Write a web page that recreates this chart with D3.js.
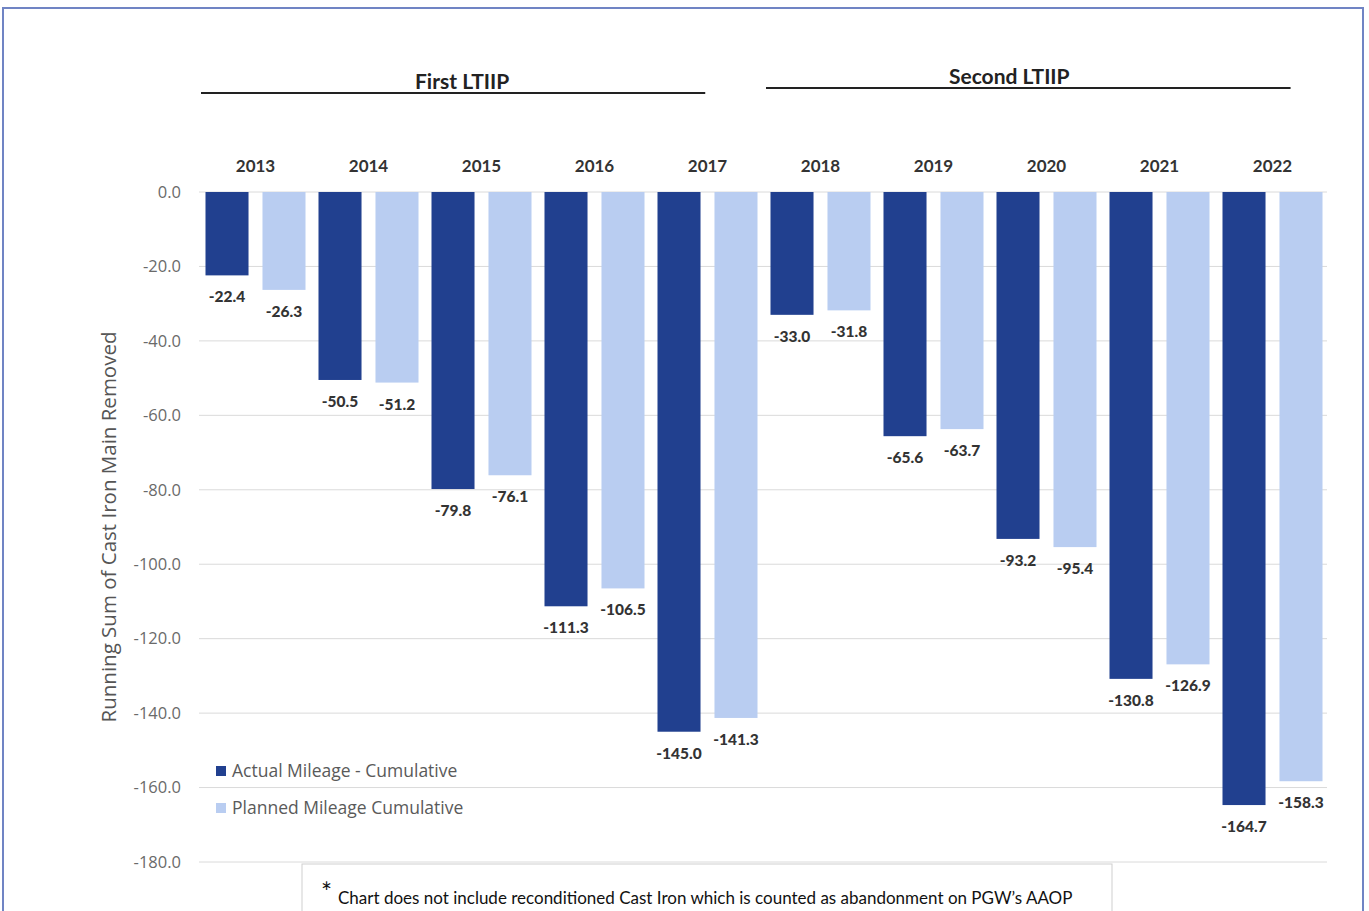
<!DOCTYPE html>
<html>
<head>
<meta charset="utf-8">
<script src="https://cdn.jsdelivr.net/npm/d3@7"></script>
<style>
  body { margin: 0; background: #fff; }
  svg { display: block; }
</style>
</head>
<body>
<svg id="vis"></svg>
<script>
const WIDTH = 1369;
const HEIGHT = 911;

// datos
const years = ["2013", "2014", "2015", "2016", "2017", "2018", "2019", "2020", "2021", "2022"];
const actual = [-22.4, -50.5, -79.8, -111.3, -145.0, -33.0, -65.6, -93.2, -130.8, -164.7];
const planned = [-26.3, -51.2, -76.1, -106.5, -141.3, -31.8, -63.7, -95.4, -126.9, -158.3];
const seriesNames = ["Actual Mileage - Cumulative", "Planned Mileage Cumulative"];
const yTicks = [0, -20, -40, -60, -80, -100, -120, -140, -160, -180];
const periods = [
    { name: "First LTIIP", from: "2013", to: "2017" },
    { name: "Second LTIIP", from: "2018", to: "2022" }
];
const footnote = "Chart does not include reconditioned Cast Iron which is counted as abandonment on PGW\u2019s AAOP";

const DARK = "#21408f";
const LIGHT = "#b9cdf1";
const colors = [DARK, LIGHT];

const svg = d3.select("#vis")
    .attr("width", WIDTH)
    .attr("height", HEIGHT);

// marco exterior
svg.append("rect")
    .attr("x", 3).attr("y", 8)
    .attr("width", 1360).attr("height", 920)
    .attr("fill", "none")
    .attr("stroke", "#7084c4")
    .attr("stroke-width", 2);

const escalaX = d3.scaleBand()
    .domain(years)
    .range([199, 1329]);

const escalaSerie = d3.scaleBand()
    .domain([0, 1])
    .range([0, escalaX.bandwidth()])
    .paddingInner(0.245)
    .paddingOuter(0.114);

const escalaY = d3.scaleLinear()
    .domain([0, -180])
    .range([192, 862]);

// lineas de grilla
svg.append("g")
    .selectAll("line")
    .data(yTicks)
    .join("line")
    .attr("x1", 199)
    .attr("x2", 1327)
    .attr("y1", d => escalaY(d))
    .attr("y2", d => escalaY(d))
    .attr("stroke", "#dadada")
    .attr("stroke-width", 1);

// eje Y
const ejeY = d3.axisLeft(escalaY)
    .tickValues(yTicks)
    .tickSize(0)
    .tickPadding(0);

const gEje = svg.append("g")
    .attr("transform", "translate(181,0)")
    .call(ejeY);
gEje.select(".domain").remove();
gEje.selectAll("text")
    .attr("font-family", "'Open Sans', sans-serif")
    .attr("font-size", 16.5)
    .attr("fill", "#6a6a6a")
    .text(d => d3.format(".1f")(d).replace("\u2212", "-"));

svg.append("text")
    .attr("transform", `translate(116, ${escalaY(-90)}) rotate(-90)`)
    .attr("text-anchor", "middle")
    .attr("font-family", "'Open Sans', sans-serif")
    .attr("font-size", 20.5)
    .attr("fill", "#555")
    .text("Running Sum of Cast Iron Main Removed");

// etiquetas de años
svg.append("g")
    .selectAll("text")
    .data(years)
    .join("text")
    .attr("x", d => escalaX(d) + escalaX.bandwidth() / 2)
    .attr("y", 172)
    .attr("text-anchor", "middle")
    .attr("font-family", "Lato, sans-serif")
    .attr("font-weight", "bold")
    .attr("font-size", 17)
    .attr("fill", "#333")
    .text(d => d);

// barras
const datos = years.map((y, i) => ({ year: y, values: [actual[i], planned[i]] }));

const grupos = svg.append("g")
    .selectAll("g")
    .data(datos)
    .join("g")
    .attr("transform", d => `translate(${escalaX(d.year)},0)`);

grupos.selectAll("rect")
    .data(d => d.values.map((v, k) => ({ k: k, v: v })))
    .join("rect")
    .attr("x", d => escalaSerie(d.k))
    .attr("width", escalaSerie.bandwidth())
    .attr("y", escalaY(0))
    .attr("height", d => escalaY(d.v) - escalaY(0))
    .attr("fill", d => colors[d.k]);

grupos.selectAll("text")
    .data(d => d.values.map((v, k) => ({ k: k, v: v })))
    .join("text")
    .attr("x", d => escalaSerie(d.k) + escalaSerie.bandwidth() / 2)
    .attr("y", d => escalaY(d.v) + 27)
    .attr("text-anchor", "middle")
    .attr("font-family", "Lato, sans-serif")
    .attr("font-weight", 900)
    .attr("font-size", 15.5)
    .attr("fill", "#333")
    .text(d => d.v.toFixed(1));

// encabezados de periodos
periods.forEach((p, i) => {
    const x1 = escalaX(p.from) + 2;
    const x2 = i === 0 ? escalaX(p.to) + escalaX.bandwidth() * 0.48 : escalaX(p.to) + escalaX.bandwidth() * 0.66;
    const yLine = i === 0 ? 93 : 88;
    svg.append("line")
        .attr("x1", x1).attr("x2", x2)
        .attr("y1", yLine).attr("y2", yLine)
        .attr("stroke", "#222")
        .attr("stroke-width", 2);
    svg.append("text")
        .attr("x", i === 0 ? (x1 + x2) / 2 + 9 : (x1 + x2) / 2 - 19)
        .attr("y", yLine - 4)
        .attr("text-anchor", "middle")
        .attr("font-family", "Lato, sans-serif")
        .attr("font-weight", "bold")
        .attr("font-size", 21)
        .attr("fill", "#222")
        .text(p.name);
});

// leyenda
const leyenda = svg.append("g")
    .selectAll("g")
    .data(seriesNames)
    .join("g")
    .attr("transform", (d, i) => `translate(216, ${771 + i * 37})`);

leyenda.append("rect")
    .attr("x", 0).attr("y", -5)
    .attr("width", 10).attr("height", 10)
    .attr("fill", (d, i) => colors[i]);

leyenda.append("text")
    .attr("x", 16)
    .attr("y", 6)
    .attr("font-family", "'Open Sans', sans-serif")
    .attr("font-size", 17.5)
    .attr("fill", "#5a5a5a")
    .text(d => d);

// nota al pie
svg.append("rect")
    .attr("x", 302).attr("y", 864)
    .attr("width", 810).attr("height", 60)
    .attr("fill", "#fff")
    .attr("stroke", "#cfcfcf")
    .attr("stroke-width", 1);

svg.append("text")
    .attr("x", 321)
    .attr("y", 902)
    .attr("font-family", "Lato, sans-serif")
    .attr("font-size", 26)
    .attr("fill", "#111")
    .text("*");

svg.append("text")
    .attr("x", 338)
    .attr("y", 904)
    .attr("font-family", "Lato, sans-serif")
    .attr("font-size", 17)
    .attr("fill", "#111")
    .text(footnote);
</script>
</body>
</html>
